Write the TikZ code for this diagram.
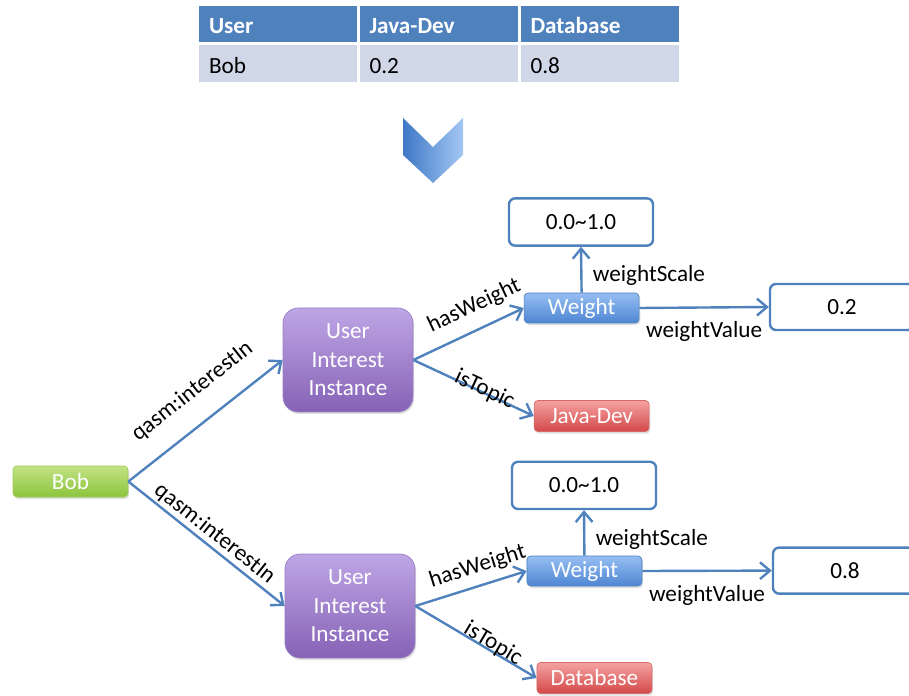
\documentclass[tikz,border=0pt]{standalone}
\usepackage{fontspec}
\setmainfont{Carlito}
\usetikzlibrary{arrows.meta, shadows}

\definecolor{lineblue}{HTML}{4F81BD}
\definecolor{headblue}{HTML}{4F81BD}
\definecolor{rowgray}{HTML}{D0D8E8}
\definecolor{bobtop}{HTML}{C2E384}
\definecolor{bobbot}{HTML}{8CC43C}
\definecolor{bobline}{HTML}{9DC95C}
\definecolor{uitop}{HTML}{BEA6E5}
\definecolor{uibot}{HTML}{8662B6}
\definecolor{uiline}{HTML}{9A80C4}
\definecolor{wttop}{HTML}{96BEF3}
\definecolor{wtbot}{HTML}{4E86D2}
\definecolor{tptop}{HTML}{F5A2A2}
\definecolor{tpbot}{HTML}{D44848}
\definecolor{tpline}{HTML}{D66A6A}
\definecolor{chevleft}{HTML}{3E78C6}
\definecolor{chevright}{HTML}{A4C7F3}

\begin{document}
\begin{tikzpicture}[
  every node/.style={font=\fontsize{16.5}{20.3}\selectfont},
  hcell/.style={fill=headblue, text=white, font=\fontsize{16.5}{20.3}\selectfont\bfseries,
    text width=3.45cm, inner xsep=0.25cm, text height=0.5cm, text depth=0cm,
    minimum height=0.9cm, align=left},
  bcell/.style={fill=rowgray, text width=3.45cm, inner xsep=0.25cm, text height=0.5cm,
    text depth=0cm, minimum height=0.92cm, align=left},
  softshadow/.style={drop shadow={opacity=0.25, shadow xshift=0.03cm, shadow yshift=-0.05cm}},
  usernode/.style={top color=bobtop, bottom color=bobbot, draw=bobline, line width=0.5pt,
    text=white, rounded corners=0.1cm,
    minimum width=2.875cm, minimum height=0.775cm, inner sep=0pt, softshadow},
  instance/.style={top color=uitop, bottom color=uibot, draw=uiline, line width=0.5pt,
    text=white, rounded corners=0.38cm,
    align=center, minimum width=3.25cm, minimum height=2.6cm, inner sep=0pt, softshadow},
  weightnode/.style={top color=wttop, bottom color=wtbot, draw=lineblue, line width=0.5pt,
    text=white, rounded corners=0.1cm,
    minimum width=2.875cm, minimum height=0.75cm, inner sep=0pt, softshadow},
  topic/.style={top color=tptop, bottom color=tpbot, draw=tpline, line width=0.5pt,
    text=white, rounded corners=0.1cm,
    minimum width=2.875cm, minimum height=0.78cm, inner sep=0pt, softshadow},
  valbox/.style={fill=white, draw=lineblue, line width=1.7pt, rounded corners=0.15cm,
    minimum width=3.6cm, minimum height=1.18cm},
  link/.style={draw=lineblue, line width=1.7pt, -{Straight Barb[length=0.25cm, width=0.42cm]}}
]
\useasboundingbox (0,0) rectangle (22.725,17.375);

% table
\node[hcell] (hdUser) at (6.95, 16.775) {User};
\node[hcell] (hdJava) at (10.9625, 16.775) {Java-Dev};
\node[hcell] (hdDb) at (14.9875, 16.775) {Database};
\node[bcell] (rwUser) at (6.95, 15.79) {Bob};
\node[bcell] (rwJava) at (10.9625, 15.79) {0.2};
\node[bcell] (rwDb) at (14.9875, 15.79) {0.8};

% chevron
\shade[left color=chevleft, right color=chevright]
  (10.075,14.425) -- (10.825,13.7) -- (11.575,14.425) -- (11.575,13.5)
  -- (10.825,12.8) -- (10.075,13.5) -- cycle;

% graph
\node[usernode] (bob) at (1.7625, 5.3375) {Bob};
\node[instance] (ui1) at (8.70, 8.375) {User\\Interest\\Instance};
\node[instance] (ui2) at (8.75, 2.225) {User\\Interest\\Instance};

\node[valbox] (sc1) at (14.525, 11.825) {0.0\char`~1.0};
\node[weightnode] (wt1) at (14.54, 9.675) {Weight};
\node[valbox, minimum height=1.15cm] (val1) at (21.05, 9.70) {0.2};
\node[topic] (java) at (14.79, 6.975) {Java-Dev};

\node[valbox] (sc2) at (14.60, 5.24) {0.0\char`~1.0};
\node[weightnode] (wt2) at (14.61, 3.10) {Weight};
\node[valbox, minimum height=1.15cm] (val2) at (21.125, 3.11) {0.8};
\node[topic] (db) at (14.86, 0.425) {Database};

\draw[link] (bob.east) -- node[pos=0.54, sloped, above=11pt] {qasm:interestIn} (ui1.west);
\draw[link] (bob.east) -- node[pos=0.50, sloped, above=-2pt] {qasm:interestIn} (ui2.west);

\draw[link] (ui1.east) -- node[pos=0.64, sloped, above=5pt] {hasWeight} (wt1.west);
\draw[link] (ui1.east) -- node[pos=0.58, sloped, above=-9pt] {isTopic} (java.west);
\draw[link] (wt1.north) -- node[pos=0.38, right=4pt] {weightScale} (sc1.south);
\draw[link] (wt1.east) -- node[midway, below=5.5pt] {weightValue} (val1.west);

\draw[link] (ui2.east) -- node[pos=0.61, sloped, above=2pt] {hasWeight} (wt2.west);
\draw[link] (ui2.east) -- node[pos=0.61, sloped, above=-6pt] {isTopic} (db.west);
\draw[link] (wt2.north) -- node[pos=0.36, right=4pt] {weightScale} (sc2.south);
\draw[link] (wt2.east) -- node[midway, below=6pt] {weightValue} (val2.west);

\end{tikzpicture}
\end{document}
